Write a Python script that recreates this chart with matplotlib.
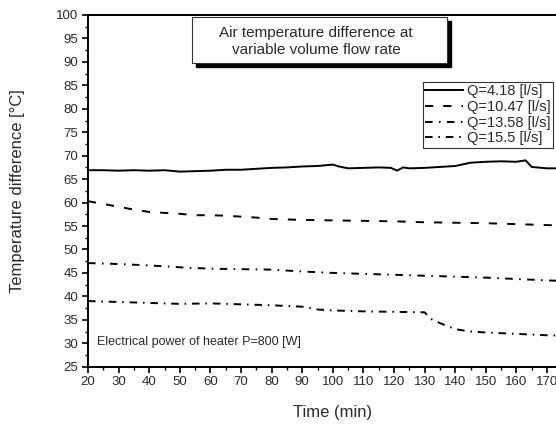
import matplotlib.pyplot as plt
from matplotlib.patches import Rectangle
from matplotlib.ticker import MultipleLocator

plt.rcParams['font.family'] = ['Liberation Sans', 'DejaVu Sans']

# time axis (min) and measured temperature differences (°C)
t_q1 = [20, 25, 30, 35, 40, 45, 50, 55, 60, 65, 70, 75, 80, 85, 90, 95, 100,
        102, 105, 110, 115, 119, 121, 123, 125, 130, 135, 140, 145, 150, 155,
        160, 163, 165, 170, 175, 180]
dt_q1 = [66.9, 66.9, 66.8, 66.9, 66.8, 66.9, 66.6, 66.7, 66.8, 67.0, 67.0,
         67.2, 67.4, 67.5, 67.7, 67.8, 68.1, 67.7, 67.3, 67.4, 67.5, 67.4,
         66.8, 67.5, 67.3, 67.4, 67.6, 67.8, 68.5, 68.7, 68.8, 68.7, 69.0,
         67.6, 67.3, 67.3, 67.3]

t_q2 = [20, 25, 30, 35, 40, 45, 50, 55, 60, 65, 70, 75, 80, 90, 100, 110, 120,
        130, 140, 150, 160, 170, 180]
dt_q2 = [60.3, 59.7, 59.1, 58.5, 58.0, 57.8, 57.6, 57.3, 57.3, 57.2, 57.0,
         56.8, 56.5, 56.3, 56.2, 56.1, 56.0, 55.8, 55.7, 55.6, 55.4, 55.2, 55.0]

t_q3 = [20, 30, 40, 50, 60, 70, 80, 90, 100, 110, 120, 130, 140, 150, 160,
        170, 180]
dt_q3 = [47.1, 46.9, 46.6, 46.2, 45.9, 45.8, 45.7, 45.3, 45.0, 44.8, 44.6,
         44.4, 44.2, 44.0, 43.7, 43.4, 43.2]

t_q4 = [20, 30, 40, 50, 60, 70, 80, 90, 95, 100, 110, 120, 130, 132, 135,
        140, 145, 150, 160, 170, 180]
dt_q4 = [39.0, 38.8, 38.6, 38.4, 38.5, 38.3, 38.1, 37.8, 37.2, 37.0, 36.8,
         36.7, 36.6, 35.2, 34.3, 33.0, 32.5, 32.3, 32.0, 31.7, 31.6]

labels = ['Q=4.18 [l/s]', 'Q=10.47 [l/s]', 'Q=13.58 [l/s]', 'Q=15.5 [l/s]']

txt = '#2a2a2a'

fig = plt.figure(figsize=(5.56, 4.25), dpi=100)
ax = fig.add_axes([88 / 556, 1 - 366.7 / 425, 489.6 / 556, 351.7 / 425])

lw = 1.4
ax.plot(t_q1, dt_q1, color='black', lw=lw, ls='-', label=labels[0])
ax.plot(t_q2, dt_q2, color='black', lw=lw, ls=(0, (4.2, 5.2)), label=labels[1])
ax.plot(t_q3, dt_q3, color='black', lw=lw, ls=(0, (3.9, 3.3, 0.8, 3.3)),
        label=labels[2])
ax.plot(t_q4, dt_q4, color='black', lw=lw, ls=(0, (3.9, 3.0, 0.8, 3.0)),
        label=labels[3])

ax.set_xlim(20, 180)
ax.set_ylim(25, 100)
ax.xaxis.set_major_locator(MultipleLocator(10))
ax.xaxis.set_minor_locator(MultipleLocator(5))
ax.yaxis.set_major_locator(MultipleLocator(5))
ax.yaxis.set_minor_locator(MultipleLocator(2.5))
ax.tick_params(which='major', direction='out', length=4, width=1.2,
               labelsize=9.5, labelcolor=txt, pad=3)
ax.tick_params(which='minor', direction='out', length=2.5, width=1.0)
for side in ax.spines.values():
    side.set_linewidth(1.4)

ax.set_xlabel('Time (min)', fontsize=12, color=txt, labelpad=12)
ax.set_ylabel('Temperature difference [°C]', fontsize=12, color=txt,
              labelpad=22)

leg = ax.legend(loc='upper left', bbox_to_anchor=(423 / 556, 1 - 82 / 425),
                bbox_transform=fig.transFigure, fontsize=10.5,
                fancybox=False, framealpha=1, edgecolor='#333333',
                handlelength=2.6, handletextpad=0.3, labelspacing=0.12,
                borderpad=0.15, borderaxespad=0)
leg.get_frame().set_linewidth(0.8)
for t in leg.get_texts():
    t.set_color(txt)

# title box with a drop shadow
bx0, by0, bw, bh = 192, 17, 255, 46
fig.add_artist(Rectangle(((bx0 + 4) / 556, 1 - (by0 + bh + 4) / 425),
                         bw / 556, bh / 425, transform=fig.transFigure,
                         facecolor='black', edgecolor='black', zorder=5))
fig.add_artist(Rectangle((bx0 / 556, 1 - (by0 + bh) / 425), bw / 556,
                         bh / 425, transform=fig.transFigure,
                         facecolor='white', edgecolor='#333333', lw=0.8,
                         zorder=6))
fig.text(316 / 556, 1 - 41.5 / 425,
         'Air temperature difference at\nvariable volume flow rate',
         ha='center', va='center', fontsize=11, color=txt,
         linespacing=1.35, zorder=7)

ax.text(97 / 556, 1 - 342 / 425, 'Electrical power of heater P=800 [W]',
        transform=fig.transFigure, ha='left', va='center', fontsize=9,
        color=txt)

fig.savefig('out.png', dpi=100)
